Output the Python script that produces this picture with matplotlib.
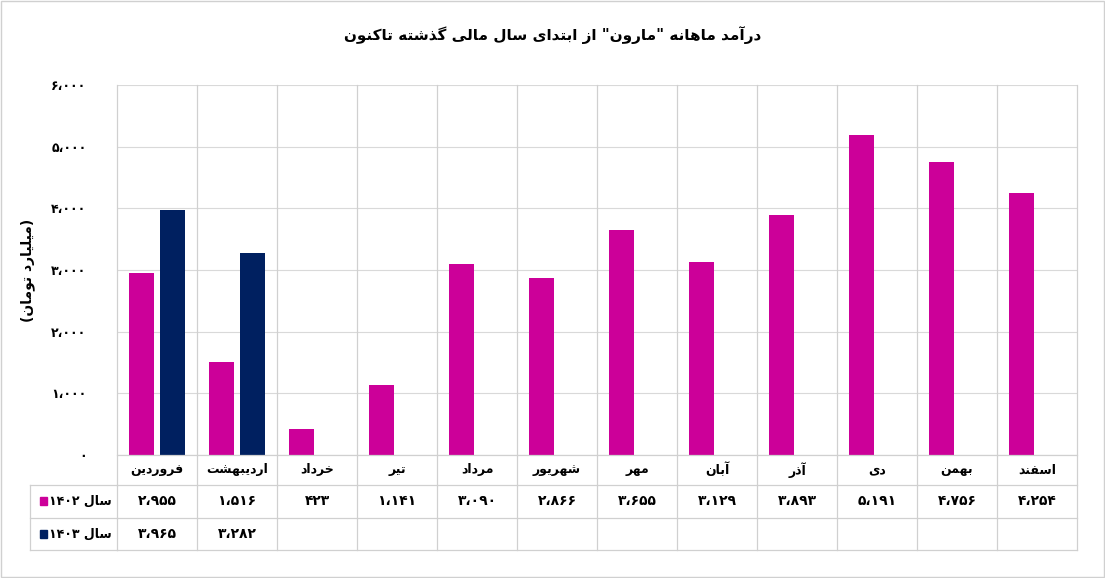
import matplotlib
matplotlib.use("Agg")
import matplotlib.pyplot as plt
from matplotlib.lines import Line2D
from matplotlib.patches import Rectangle

months = ["فروردین", "اردیبهشت", "خرداد", "تیر", "مرداد", "شهریور", "مهر", "آبان", "آذر", "دی", "بهمن", "اسفند"]
rev_1402 = [2955, 1516, 423, 1141, 3090, 2866, 3655, 3129, 3893, 5191, 4756, 4254]
rev_1403 = [3965, 3282]
yticks = [0, 1000, 2000, 3000, 4000, 5000, 6000]
title = 'درآمد ماهانه "مارون" از ابتدای سال مالی گذشته تاکنون'
ylabel = "(میلیارد تومان)"
s1402 = "سال ۱۴۰۲"
s1403 = "سال ۱۴۰۳"
PINK, NAVY = "#CC0099", "#002060"

# --- minimal Persian shaper ---
F = {
 'ا':(0xFE8D,0xFE8E,None,None),'آ':(0xFE81,0xFE82,None,None),
 'ب':(0xFE8F,0xFE90,0xFE91,0xFE92),'پ':(0xFB56,0xFB57,0xFB58,0xFB59),
 'ت':(0xFE95,0xFE96,0xFE97,0xFE98),'ث':(0xFE99,0xFE9A,0xFE9B,0xFE9C),
 'ج':(0xFE9D,0xFE9E,0xFE9F,0xFEA0),'چ':(0xFB7A,0xFB7B,0xFB7C,0xFB7D),
 'ح':(0xFEA1,0xFEA2,0xFEA3,0xFEA4),'خ':(0xFEA5,0xFEA6,0xFEA7,0xFEA8),
 'د':(0xFEA9,0xFEAA,None,None),'ذ':(0xFEAB,0xFEAC,None,None),
 'ر':(0xFEAD,0xFEAE,None,None),'ز':(0xFEAF,0xFEB0,None,None),'ژ':(0xFB8A,0xFB8B,None,None),
 'س':(0xFEB1,0xFEB2,0xFEB3,0xFEB4),'ش':(0xFEB5,0xFEB6,0xFEB7,0xFEB8),
 'ص':(0xFEB9,0xFEBA,0xFEBB,0xFEBC),'ض':(0xFEBD,0xFEBE,0xFEBF,0xFEC0),
 'ط':(0xFEC1,0xFEC2,0xFEC3,0xFEC4),'ظ':(0xFEC5,0xFEC6,0xFEC7,0xFEC8),
 'ع':(0xFEC9,0xFECA,0xFECB,0xFECC),'غ':(0xFECD,0xFECE,0xFECF,0xFED0),
 'ف':(0xFED1,0xFED2,0xFED3,0xFED4),'ق':(0xFED5,0xFED6,0xFED7,0xFED8),
 'ک':(0xFB8E,0xFB8F,0xFB90,0xFB91),'گ':(0xFB92,0xFB93,0xFB94,0xFB95),
 'ل':(0xFEDD,0xFEDE,0xFEDF,0xFEE0),'م':(0xFEE1,0xFEE2,0xFEE3,0xFEE4),
 'ن':(0xFEE5,0xFEE6,0xFEE7,0xFEE8),'و':(0xFEED,0xFEEE,None,None),
 'ه':(0xFEE9,0xFEEA,0xFEEB,0xFEEC),'ی':(0xFBFC,0xFBFD,0xFBFE,0xFBFF),
}
def shape_word(w):
    out = []
    for i, c in enumerate(w):
        if c not in F:
            out.append(c); continue
        p = w[i-1] if i > 0 else None
        n = w[i+1] if i+1 < len(w) else None
        jp = p in F and F[p][2] is not None
        jn = n in F and F[c][2] is not None
        f = F[c]
        if jp and jn: out.append(chr(f[3]))
        elif jp: out.append(chr(f[1]))
        elif jn: out.append(chr(f[2]))
        else: out.append(chr(f[0]))
    return "".join(out)

DIG = set("0123456789۰۱۲۳۴۵۶۷۸۹،")
MIR = {'(': ')', ')': '('}
def fa(s):
    sh = shape_word(s)
    runs, cur, isd = [], "", None
    for c in sh:
        d = c in DIG
        if isd is None or d == isd:
            cur += c
        else:
            runs.append((cur, isd)); cur = c
        isd = d
    runs.append((cur, isd))
    res = ""
    for r, d in reversed(runs):
        res += r if d else "".join(MIR.get(c, c) for c in reversed(r))
    return res

def pnum(v):
    s = f"{v:,}".replace(",", "،")
    return s.translate(str.maketrans("0123456789", "۰۱۲۳۴۵۶۷۸۹"))

plt.rcParams["font.family"] = "DejaVu Sans"
W, H = 1105, 578
fig = plt.figure(figsize=(W/100, H/100), dpi=100)
x0, x1, ytop, ybot = 117, 1077, 85, 455
ax = fig.add_axes([x0/W, 1-ybot/H, (x1-x0)/W, (ybot-ytop)/H])
n = len(months)
xs = list(range(n))
ax.bar([x-0.19 for x in xs], rev_1402, width=0.31, color=PINK, zorder=3)
ax.bar([x+0.19 for x in range(len(rev_1403))], rev_1403, width=0.31, color=NAVY, zorder=3)
ax.set_xlim(-0.5, n-0.5)
ax.set_ylim(0, 6000)
ax.set_yticks(yticks)
ax.set_yticklabels([pnum(v) for v in yticks], fontsize=9, fontweight="bold")
ax.set_xticks([])
ax.grid(axis="y", color="#d9d9d9", lw=0.8, zorder=0)
for s in ax.spines.values(): s.set_visible(False)
ax.tick_params(axis="y", length=0, pad=22)
ax.set_ylabel(fa(ylabel), fontsize=10, fontweight="bold", labelpad=12)
fig.text(0.5, 1-35/H, fa(title), ha="center", va="center", fontsize=11, fontweight="bold")

def L(xa, ya, xb, yb):
    fig.add_artist(Line2D([xa/W, xb/W], [1-ya/H, 1-yb/H], color="#d0d0d0", lw=0.9))
cw = (x1-x0)/n
rows = [455, 485, 518, 550]
for y in rows: L(x0, y, x1, y)
L(30, 485, x0, 485); L(30, 518, x0, 518); L(30, 550, x0, 550); L(30, 485, 30, 550)
for i in range(n+1):
    L(x0+i*cw, ytop, x0+i*cw, 550)
for i in range(n):
    cx = (x0+(i+0.5)*cw)/W
    fig.text(cx, 1-470/H, fa(months[i]), ha="center", va="center", fontsize=9, fontweight="bold")
    fig.text(cx, 1-501/H, pnum(rev_1402[i]), ha="center", va="center", fontsize=10, fontweight="bold")
    if i < len(rev_1403):
        fig.text(cx, 1-534/H, pnum(rev_1403[i]), ha="center", va="center", fontsize=10, fontweight="bold")
for y, lab, col in [(501, s1402, PINK), (534, s1403, NAVY)]:
    fig.add_artist(Rectangle((40/W, 1-(y+4)/H), 7/W, 8/H, color=col, transform=fig.transFigure))
    fig.text(80/W, 1-y/H, fa(lab), ha="center", va="center", fontsize=9, fontweight="bold")
fig.add_artist(Rectangle((1/W, 1/H), 1-2/W, 1-2/H, fill=False, ec="#d0d0d0", lw=1, transform=fig.transFigure))
fig.savefig("out.png", dpi=100, facecolor="white")
